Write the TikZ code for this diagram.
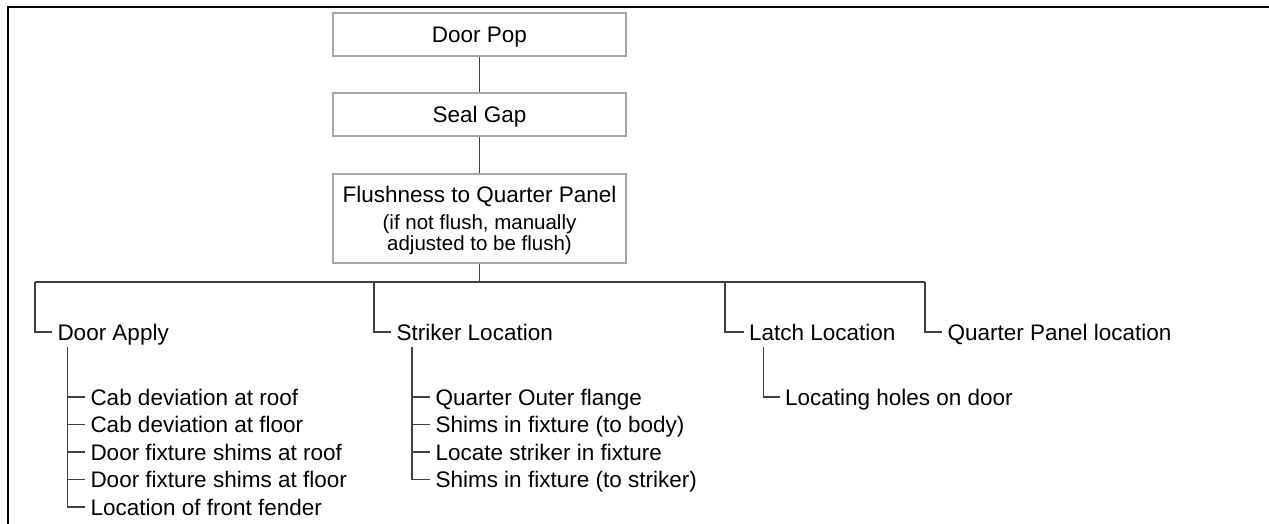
\documentclass[tikz,border=0pt]{standalone}
\usepackage{fontspec}
\setmainfont{Liberation Sans}
\begin{document}
\begin{tikzpicture}[x=1pt,y=-1pt,
  conn/.style={draw=black!75, line width=1.2pt},
  frame/.style={draw=black, line width=2pt},
  box/.style={draw=black!35, line width=1.3pt, fill=white, minimum width=293pt, inner sep=0pt},
  lbl/.style={anchor=west, inner ysep=0pt, inner xsep=0pt, outer xsep=5.5pt, outer ysep=0pt,
              text height=21pt, text depth=5pt, font=\fontsize{22.5}{27}\selectfont},
  btxt/.style={anchor=base, inner sep=0pt, font=\fontsize{22.5}{27}\selectfont},
  stxt/.style={anchor=base, inner sep=0pt, font=\fontsize{20.5}{24}\selectfont}]
\useasboundingbox (0,0) rectangle (1269,524);
% frame (left and top only)
\coordinate (fbl) at (7.7,524);
\coordinate (ftl) at (7.7,6.7);
\coordinate (ftr) at (1269,6.7);
\draw[frame] (fbl) -- (ftl) -- (ftr);

% top boxes
\node[box, minimum height=43pt] (pop) at (479.5,34.5) {};
\node[btxt] (popt) at (479.5,42.7) {Door Pop};
\node[box, minimum height=43pt] (seal) at (479.5,114.5) {};
\node[btxt] (sealt) at (479.5,122.5) {Seal Gap};
\node[box, minimum height=89pt] (flush) at (479.5,218.5) {};
\node[btxt] (flusht1) at (479.5,202.3) {Flushness to Quarter Panel};
\node[stxt] (flusht2) at (479.5,229) {(if not flush, manually};
\node[stxt] (flusht3) at (479.5,250.5) {adjusted to be flush)};

\draw[conn] (pop.south) -- (seal.north);
\draw[conn] (seal.south) -- (flush.north);

% bus
\coordinate (t1) at (35,282);
\coordinate (t2) at (374,282);
\coordinate (t3) at (725,282);
\coordinate (t4) at (925,282);
\draw[conn] (flush.south) -- (flush.south |- t1);
\draw[conn] (t1) -- (t4);

% level 1
\node[lbl] (da) at (52,332) {Door Apply};
\node[lbl] (sl) at (391,332) {Striker Location};
\node[lbl] (ll) at (743.5,332) {Latch Location};
\node[lbl] (qp) at (942,332) {Quarter Panel location};
\draw[conn] (t1) |- (da.west);
\draw[conn] (t2) |- (sl.west);
\draw[conn] (t3) |- (ll.west);
\draw[conn] (t4) |- (qp.west);

% Door Apply children
\coordinate (dac) at (67.5,347);
\node[lbl] (da1) at (85,397) {Cab deviation at roof};
\node[lbl] (da2) at (85,424.5) {Cab deviation at floor};
\node[lbl] (da3) at (85,452) {Door fixture shims at roof};
\node[lbl] (da4) at (85,479.5) {Door fixture shims at floor};
\node[lbl] (da5) at (85,507) {Location of front fender};
\foreach \n in {da1,da2,da3,da4,da5} \draw[conn] (dac) |- (\n.west);

% Striker children
\coordinate (slc) at (412,347);
\node[lbl] (sl1) at (430,397) {Quarter Outer flange};
\node[lbl] (sl2) at (430,424.5) {Shims in fixture (to body)};
\node[lbl] (sl3) at (430,452) {Locate striker in fixture};
\node[lbl] (sl4) at (430,479.5) {Shims in fixture (to striker)};
\foreach \n in {sl1,sl2,sl3,sl4} \draw[conn] (slc) |- (\n.west);

% Latch child
\coordinate (llc) at (763.5,347);
\node[lbl] (ll1) at (779.5,397) {Locating holes on door};
\draw[conn] (llc) |- (ll1.west);
\end{tikzpicture}
\end{document}
